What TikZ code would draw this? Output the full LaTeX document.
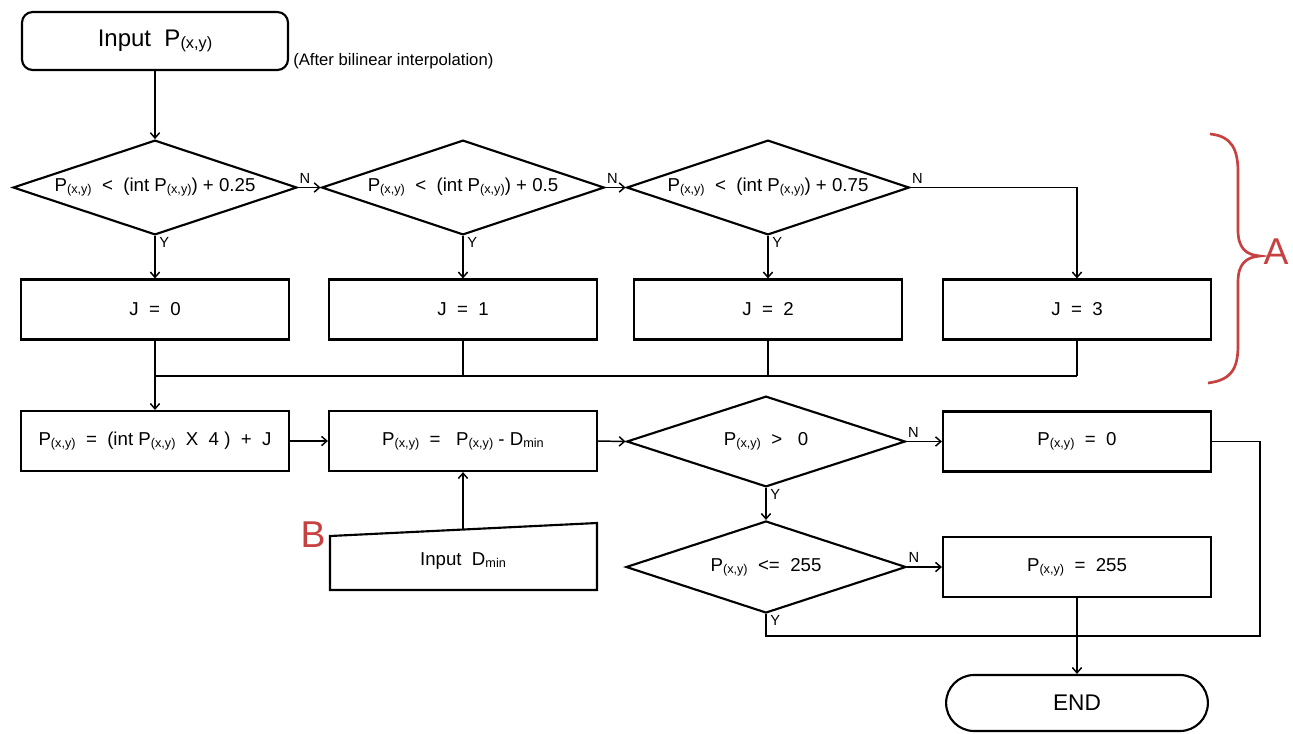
\documentclass[tikz,border=0pt]{standalone}
\usepackage{fontspec}
\setmainfont{Liberation Sans}
\usepackage{graphicx}
\usetikzlibrary{shapes.geometric,shapes.misc,arrows.meta}
\definecolor{bred}{RGB}{200,65,65}
\newcommand{\sbs}[1]{\raisebox{-0.2ex}{\scalebox{0.68}{#1}}}
\begin{document}
\begin{tikzpicture}[x=0.75pt,y=-0.75pt,
  box/.style={draw, line width=1.6pt, minimum width=201pt, minimum height=45pt, inner sep=0pt, font=\fontsize{14}{16}\selectfont},
  dia/.style={draw, diamond, line width=1.6pt, inner sep=0pt},
  dtxt/.style={font=\fontsize{14}{16}\selectfont, inner sep=0pt},
  arr/.style={line width=1.1pt, -{Straight Barb[length=4pt,width=7pt]}},
  ln/.style={line width=1.1pt},
  yn/.style={font=\fontsize{11}{12}\selectfont, inner sep=1pt},
  redlbl/.style={text=bred, font=\fontsize{28}{30}\selectfont, inner sep=0pt}]
\useasboundingbox (0,0) rectangle (1293,733);

% input
\node[box, rounded corners=8pt, minimum width=199.5pt, minimum height=43.5pt, font=\fontsize{18}{20}\selectfont] (in) at (155,41) {Input \ P\sbs{(x,y)}};
\node[anchor=west, font=\fontsize{12.5}{13}\selectfont, inner sep=0pt] (note) at (293,61) {(After bilinear interpolation)};

% diamonds row 1
\node[dia, minimum width=213pt, minimum height=71pt] (d1) at (155,187.5) {};
\node[dtxt] (t1) at (d1.center) {P\sbs{(x,y)} \ < \ (int P\sbs{(x,y)}) + 0.25};
\node[dia, minimum width=212pt, minimum height=71pt] (d2) at (463,187.5) {};
\node[dtxt] (t2) at (d2.center) {P\sbs{(x,y)} \ < \ (int P\sbs{(x,y)}) + 0.5};
\node[dia, minimum width=212pt, minimum height=71pt] (d3) at (768,187.5) {};
\node[dtxt] (t3) at (d3.center) {P\sbs{(x,y)} \ < \ (int P\sbs{(x,y)}) + 0.75};

% J boxes
\node[box] (J0) at (155,309.5) {J \ = \ 0};
\node[box] (J1) at (463,309.5) {J \ = \ 1};
\node[box] (J2) at (768,309.5) {J \ = \ 2};
\node[box] (J3) at (1077,309.5) {J \ = \ 3};
\coordinate (bus) at (155,376);

% row 3
\node[box] (F) at (155,441) {P\sbs{(x,y)} \ = \ (int P\sbs{(x,y)} \ X \ 4 ) \ + \ J};
\node[box] (Dm) at (463,441) {P\sbs{(x,y)} \ = \ \ P\sbs{(x,y)} - D\sbs{min}};
\node[dia, minimum width=209pt, minimum height=68pt] (d4) at (766,441.5) {};
\node[dtxt] (t4) at (d4.center) {P\sbs{(x,y)} \ > \ \ 0};
\node[box] (Z) at (1077,441.5) {P\sbs{(x,y)} \ = \ 0};

% row 4
\node[dia, minimum width=210pt, minimum height=69pt] (d5) at (766,567) {};
\node[dtxt] (t5) at (d5.center) {P\sbs{(x,y)} \ <= \ 255};
\node[box] (B255) at (1077,567) {P\sbs{(x,y)} \ = \ 255};
\node[draw, rounded rectangle, line width=1.6pt, minimum width=203pt, minimum height=42pt, font=\fontsize{17}{18}\selectfont] (end) at (1077,703) {END};

% manual input
\coordinate (mi1) at (330,536);
\coordinate (mi2) at (597,523);
\coordinate (mi3) at (597,590);
\coordinate (mi4) at (330,590);
\draw[line width=1.6pt] (mi1) -- (mi2) -- (mi3) -- (mi4) -- cycle;
\node[dtxt] (dmin) at (463,561) {Input \ D\sbs{min}};
\coordinate (dmtop) at (463,529.5);

% connectors
\draw[arr] (in.south) -- (d1.north);
\draw[arr] (d1.east) -- (d2.west);
\draw[arr] (d2.east) -- (d3.west);
\draw[arr] (d3.east) -| (J3.north);
\draw[arr] (d1.south) -- (J0.north);
\draw[arr] (d2.south) -- (J1.north);
\draw[arr] (d3.south) -- (J2.north);
\node[yn, anchor=south west] (n1) at ([yshift=2pt]d1.east) {N};
\node[yn, anchor=south west] (n2) at ([yshift=2pt]d2.east) {N};
\node[yn, anchor=south west] (n3) at ([yshift=2pt]d3.east) {N};
\node[yn, anchor=north west] (y1) at ([xshift=2pt]d1.south) {Y};
\node[yn, anchor=north west] (y2) at ([xshift=2pt]d2.south) {Y};
\node[yn, anchor=north west] (y3) at ([xshift=2pt]d3.south) {Y};

\draw[ln] (J1.south) -- (J1.south |- bus);
\draw[ln] (J2.south) -- (J2.south |- bus);
\draw[ln] (J3.south) -- (J3.south |- bus);
\draw[ln] (bus) -- (J3.south |- bus);
\draw[arr] (J0.south) -- (F.north);

\draw[arr] (F.east) -- (Dm.west);
\draw[arr] (Dm.east) -- (d4.west);
\draw[arr] (d4.east) -- (Z.west);
\draw[arr] (d4.south) -- (d5.north);
\draw[arr] (d5.east) -- (B255.west);
\draw[arr] (B255.south) -- (end.north);
\draw[arr] (dmtop) -- (Dm.south);
\node[yn, anchor=south west] (n4) at ([yshift=2pt]d4.east) {N};
\node[yn, anchor=south west] (n5) at ([yshift=2pt]d5.east) {N};
\node[yn, anchor=north west] (y4) at ([xshift=2pt]d4.south) {Y};
\node[yn, anchor=north west] (y5) at ([xshift=2pt]d5.south) {Y};

\coordinate (loopR) at (1260,636);
\draw[ln] (d5.south) |- (loopR) |- (Z.east);

% brace and labels
\draw[bred, line width=2pt] (1210,134) .. controls (1232,136) and (1238,150) .. (1238,172) -- (1238,230) .. controls (1238,248) and (1246,255) .. (1260,256) .. controls (1246,257) and (1238,264) .. (1238,282) -- (1238,345) .. controls (1238,368) and (1232,380) .. (1208,383);
\node[redlbl] (A) at (1276,252) {A};
\node[redlbl] (B) at (313,535) {B};
\end{tikzpicture}
\end{document}
